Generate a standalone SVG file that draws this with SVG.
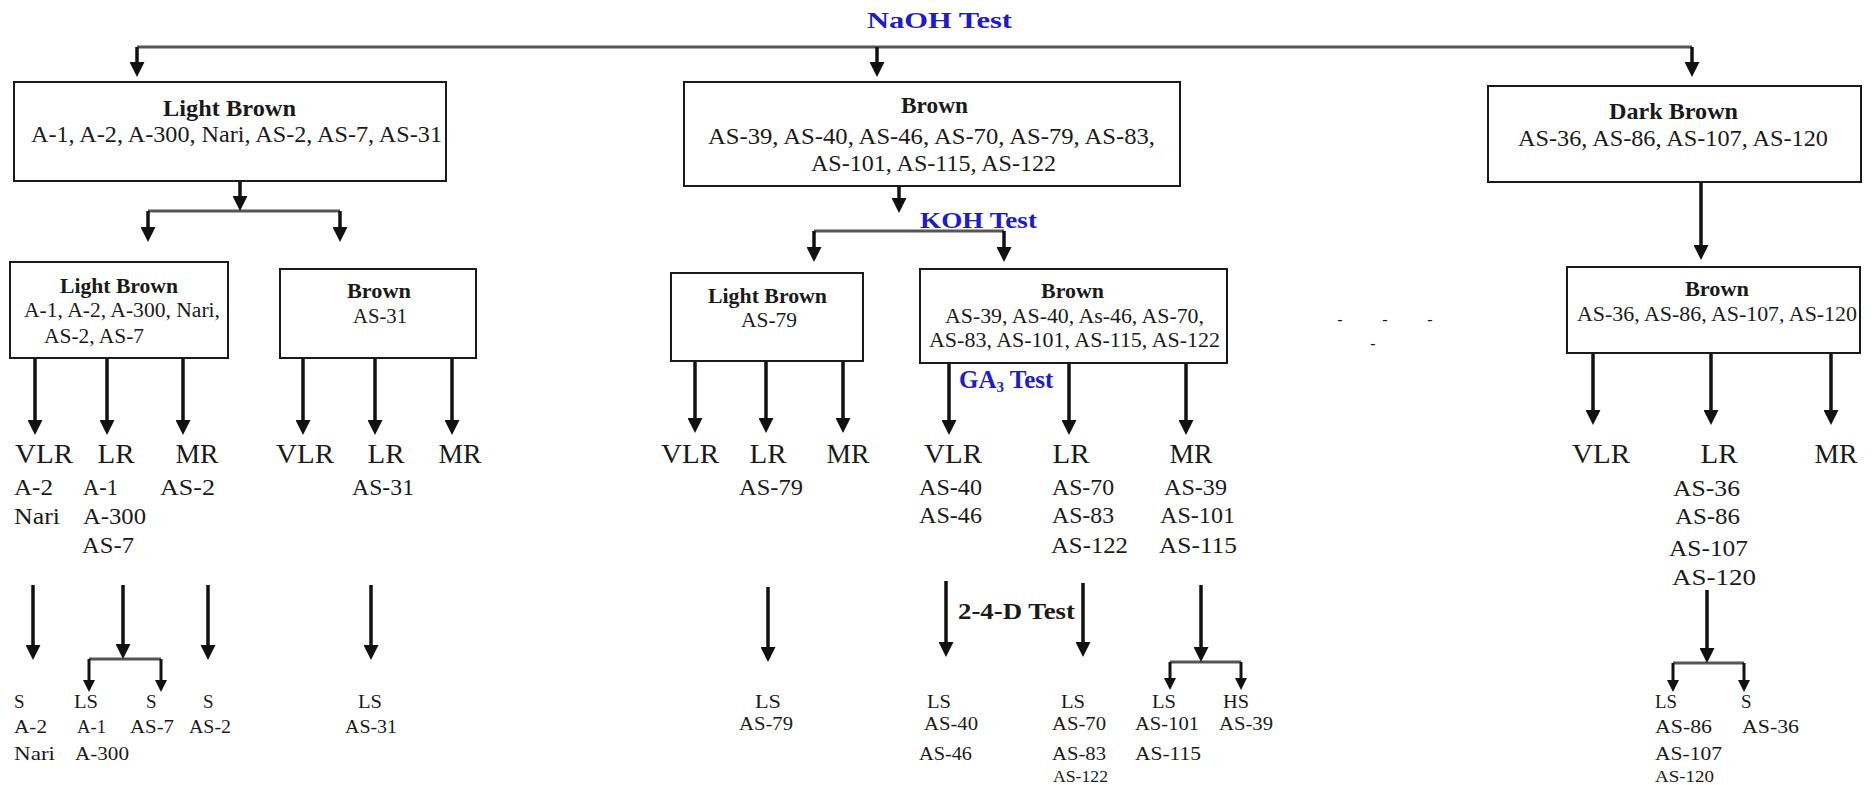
<svg xmlns="http://www.w3.org/2000/svg" width="1874" height="785" viewBox="0 0 1874 785">
<defs>
<style>
.box{fill:#fff;stroke:#1a1a1a;stroke-width:2}
text{font-family:"Liberation Serif","Times New Roman",serif;fill:#1a1a1a}
.b{font-weight:bold}
.blue{fill:#1c1cc8}
.h1{font-size:23px}
.l1{font-size:23px}
.h2{font-size:20px}
.l2{font-size:20px}
.r{font-size:27px;text-anchor:middle}
.m{font-size:23px}
.s{font-size:19px}
.xs{font-size:16px}
.dash{font-size:16px;text-anchor:middle}
.arr{stroke:#111;stroke-width:3.5;fill:none;marker-end:url(#ah)}
.arrs{stroke:#111;stroke-width:3;fill:none;marker-end:url(#ahs)}
.bar{stroke:#555;stroke-width:3;fill:none}
</style>
<marker id="ah" viewBox="0 0 10 10" refX="7" refY="5" markerWidth="15" markerHeight="15" markerUnits="userSpaceOnUse" orient="auto"><path d="M0,0 L10,5 L0,10 z" fill="#111"/></marker>
<marker id="ahs" viewBox="0 0 10 10" refX="7" refY="5" markerWidth="12" markerHeight="12" markerUnits="userSpaceOnUse" orient="auto"><path d="M0,0 L10,5 L0,10 z" fill="#111"/></marker>
</defs>
<rect width="1874" height="785" fill="#fff"/>

<g id="connectors">
<path class="bar" d="M137,47 H1692 M148,211 H340 M814,231 H1004 M89,659 H161 M1170,662 H1241 M1673,663 H1744"/>
<path class="arr" d="M137,47 V72.5"/>
<path class="arr" d="M877,47 V72.5"/>
<path class="arr" d="M1692,47 V72.5"/>
<path class="arr" d="M240,181 V206.5"/>
<path class="arr" d="M148,211 V237.5"/>
<path class="arr" d="M340,211 V237.5"/>
<path class="arr" d="M899,186 V208.5"/>
<path class="arr" d="M814,231 V257.5"/>
<path class="arr" d="M1004,231 V257.5"/>
<path class="arr" d="M1701,182 V255.5"/>
<path class="arr" d="M35,358 V430.5"/>
<path class="arr" d="M107,358 V430.5"/>
<path class="arr" d="M183,358 V430.5"/>
<path class="arr" d="M303,358 V430.5"/>
<path class="arr" d="M375,358 V430.5"/>
<path class="arr" d="M452,358 V430.5"/>
<path class="arr" d="M695,361 V428.5"/>
<path class="arr" d="M766,361 V428.5"/>
<path class="arr" d="M843,361 V428.5"/>
<path class="arr" d="M949,363 V430.5"/>
<path class="arr" d="M1069,363 V430.5"/>
<path class="arr" d="M1186,363 V430.5"/>
<path class="arr" d="M1593,353 V420.5"/>
<path class="arr" d="M1711,353 V420.5"/>
<path class="arr" d="M1831,353 V420.5"/>
<path class="arr" d="M33,585 V655.5"/>
<path class="arr" d="M123,585 V654.5"/>
<path class="arr" d="M208,585 V655.5"/>
<path class="arr" d="M371,585 V655.5"/>
<path class="arr" d="M768,587 V657.5"/>
<path class="arr" d="M946,581 V652.5"/>
<path class="arr" d="M1083,583 V652.5"/>
<path class="arr" d="M1201,585 V657.5"/>
<path class="arr" d="M1707,590 V658.5"/>
<path class="arrs" d="M89,659 V688.4"/>
<path class="arrs" d="M161,659 V688.4"/>
<path class="arrs" d="M1170,662 V686.4"/>
<path class="arrs" d="M1241,662 V686.4"/>
<path class="arrs" d="M1673,663 V688.4"/>
<path class="arrs" d="M1744,663 V688.4"/>
</g>

<g id="test-labels">
<text class="b blue" x="867" y="28" font-size="24" textLength="145" lengthAdjust="spacingAndGlyphs">NaOH Test</text>
<text class="b blue" x="920" y="228" font-size="23" textLength="117" lengthAdjust="spacingAndGlyphs">KOH Test</text>
<text class="b blue" x="959" y="388" font-size="25">GA<tspan font-size="15" dy="4">3</tspan><tspan dy="-4"> Test</tspan></text>
<text class="b" x="958" y="619" font-size="23" textLength="117" lengthAdjust="spacingAndGlyphs">2-4-D Test</text>
</g>

<g id="node-light-brown">
<rect class="box" x="14" y="82" width="432" height="99"/>
<text class="b h1" x="163" y="116" textLength="133" lengthAdjust="spacingAndGlyphs">Light Brown</text>
<text class="l1" x="31" y="142" textLength="411" lengthAdjust="spacingAndGlyphs">A-1, A-2, A-300, Nari, AS-2, AS-7, AS-31</text>
</g>

<g id="node-brown">
<rect class="box" x="684" y="82" width="496" height="104"/>
<text class="b h1" x="901" y="113" textLength="67" lengthAdjust="spacingAndGlyphs">Brown</text>
<text class="l1" x="708" y="144" textLength="447" lengthAdjust="spacingAndGlyphs">AS-39, AS-40, AS-46, AS-70, AS-79, AS-83,</text>
<text class="l1" x="811" y="171" textLength="245" lengthAdjust="spacingAndGlyphs">AS-101, AS-115, AS-122</text>
</g>

<g id="node-dark-brown">
<rect class="box" x="1488" y="86" width="373" height="96"/>
<text class="b h1" x="1609" y="119" textLength="129" lengthAdjust="spacingAndGlyphs">Dark Brown</text>
<text class="l1" x="1518" y="146" textLength="310" lengthAdjust="spacingAndGlyphs">AS-36, AS-86, AS-107, AS-120</text>
</g>

<g id="node-lb-light-brown">
<rect class="box" x="10" y="262" width="218" height="96"/>
<text class="b h2" x="60" y="293" textLength="118" lengthAdjust="spacingAndGlyphs">Light Brown</text>
<text class="l2" x="24" y="317" textLength="196" lengthAdjust="spacingAndGlyphs">A-1, A-2, A-300, Nari,</text>
<text class="l2" x="44" y="343" textLength="100" lengthAdjust="spacingAndGlyphs">AS-2, AS-7</text>
</g>

<g id="node-lb-brown">
<rect class="box" x="280" y="269" width="196" height="89"/>
<text class="b h2" x="347" y="298" textLength="64" lengthAdjust="spacingAndGlyphs">Brown</text>
<text class="l2" x="353" y="323" textLength="54" lengthAdjust="spacingAndGlyphs">AS-31</text>
</g>

<g id="node-b-light-brown">
<rect class="box" x="671" y="273" width="192" height="88"/>
<text class="b h2" x="708" y="303" textLength="119" lengthAdjust="spacingAndGlyphs">Light Brown</text>
<text class="l2" x="741" y="327" textLength="56" lengthAdjust="spacingAndGlyphs">AS-79</text>
</g>

<g id="node-b-brown">
<rect class="box" x="920" y="269" width="307" height="94"/>
<text class="b h2" x="1041" y="298" textLength="63" lengthAdjust="spacingAndGlyphs">Brown</text>
<text class="l2" x="945" y="323" textLength="259" lengthAdjust="spacingAndGlyphs">AS-39, AS-40, As-46, AS-70,</text>
<text class="l2" x="929" y="347" textLength="291" lengthAdjust="spacingAndGlyphs">AS-83, AS-101, AS-115, AS-122</text>
</g>

<g id="node-db-brown">
<rect class="box" x="1567" y="267" width="293" height="86"/>
<text class="b h2" x="1685" y="296" textLength="64" lengthAdjust="spacingAndGlyphs">Brown</text>
<text class="l2" x="1577" y="321" textLength="280" lengthAdjust="spacingAndGlyphs">AS-36, AS-86, AS-107, AS-120</text>
</g>

<g id="dashes">
<text class="dash" x="1340" y="325">-</text>
<text class="dash" x="1385" y="325">-</text>
<text class="dash" x="1430" y="325">-</text>
<text class="dash" x="1373" y="349">-</text>
</g>

<g id="root-classes">
<text class="r" x="44" y="463" textLength="58" lengthAdjust="spacingAndGlyphs">VLR</text>
<text class="r" x="116" y="463" textLength="37" lengthAdjust="spacingAndGlyphs">LR</text>
<text class="r" x="197" y="463" textLength="43" lengthAdjust="spacingAndGlyphs">MR</text>
<text class="r" x="305" y="463" textLength="58" lengthAdjust="spacingAndGlyphs">VLR</text>
<text class="r" x="386" y="463" textLength="37" lengthAdjust="spacingAndGlyphs">LR</text>
<text class="r" x="460" y="463" textLength="43" lengthAdjust="spacingAndGlyphs">MR</text>
<text class="r" x="690" y="463" textLength="58" lengthAdjust="spacingAndGlyphs">VLR</text>
<text class="r" x="768" y="463" textLength="37" lengthAdjust="spacingAndGlyphs">LR</text>
<text class="r" x="848" y="463" textLength="43" lengthAdjust="spacingAndGlyphs">MR</text>
<text class="r" x="953" y="463" textLength="58" lengthAdjust="spacingAndGlyphs">VLR</text>
<text class="r" x="1071" y="463" textLength="37" lengthAdjust="spacingAndGlyphs">LR</text>
<text class="r" x="1191" y="463" textLength="43" lengthAdjust="spacingAndGlyphs">MR</text>
<text class="r" x="1601" y="463" textLength="58" lengthAdjust="spacingAndGlyphs">VLR</text>
<text class="r" x="1719" y="463" textLength="37" lengthAdjust="spacingAndGlyphs">LR</text>
<text class="r" x="1836" y="463" textLength="43" lengthAdjust="spacingAndGlyphs">MR</text>
</g>

<g id="root-members">
<text class="m" x="14" y="495" textLength="39" lengthAdjust="spacingAndGlyphs">A-2</text>
<text class="m" x="14" y="524" textLength="46" lengthAdjust="spacingAndGlyphs">Nari</text>
<text class="m" x="83" y="495" textLength="35" lengthAdjust="spacingAndGlyphs">A-1</text>
<text class="m" x="83" y="524" textLength="63" lengthAdjust="spacingAndGlyphs">A-300</text>
<text class="m" x="82" y="553" textLength="52" lengthAdjust="spacingAndGlyphs">AS-7</text>
<text class="m" x="160" y="495" textLength="55" lengthAdjust="spacingAndGlyphs">AS-2</text>
<text class="m" x="352" y="495" textLength="62" lengthAdjust="spacingAndGlyphs">AS-31</text>
<text class="m" x="739" y="495" textLength="64" lengthAdjust="spacingAndGlyphs">AS-79</text>
<text class="m" x="919" y="495" textLength="63" lengthAdjust="spacingAndGlyphs">AS-40</text>
<text class="m" x="919" y="523" textLength="63" lengthAdjust="spacingAndGlyphs">AS-46</text>
<text class="m" x="1052" y="495" textLength="62" lengthAdjust="spacingAndGlyphs">AS-70</text>
<text class="m" x="1052" y="523" textLength="62" lengthAdjust="spacingAndGlyphs">AS-83</text>
<text class="m" x="1051" y="553" textLength="77" lengthAdjust="spacingAndGlyphs">AS-122</text>
<text class="m" x="1164" y="495" textLength="63" lengthAdjust="spacingAndGlyphs">AS-39</text>
<text class="m" x="1160" y="523" textLength="75" lengthAdjust="spacingAndGlyphs">AS-101</text>
<text class="m" x="1159" y="553" textLength="78" lengthAdjust="spacingAndGlyphs">AS-115</text>
<text class="m" x="1673" y="496" textLength="67" lengthAdjust="spacingAndGlyphs">AS-36</text>
<text class="m" x="1675" y="524" textLength="65" lengthAdjust="spacingAndGlyphs">AS-86</text>
<text class="m" x="1669" y="556" textLength="79" lengthAdjust="spacingAndGlyphs">AS-107</text>
<text class="m" x="1672" y="585" font-size="26" textLength="84" lengthAdjust="spacingAndGlyphs">AS-120</text>
</g>

<g id="salinity-results">
<text class="s" x="14" y="708">S</text>
<text class="s" x="14" y="733" textLength="33" lengthAdjust="spacingAndGlyphs">A-2</text>
<text class="s" x="14" y="760" textLength="41" lengthAdjust="spacingAndGlyphs">Nari</text>
<text class="s" x="74" y="708" textLength="24" lengthAdjust="spacingAndGlyphs">LS</text>
<text class="s" x="77" y="733" textLength="29" lengthAdjust="spacingAndGlyphs">A-1</text>
<text class="s" x="75" y="760" textLength="54" lengthAdjust="spacingAndGlyphs">A-300</text>
<text class="s" x="146" y="708">S</text>
<text class="s" x="130" y="733" textLength="44" lengthAdjust="spacingAndGlyphs">AS-7</text>
<text class="s" x="203" y="708">S</text>
<text class="s" x="189" y="733" textLength="42" lengthAdjust="spacingAndGlyphs">AS-2</text>
<text class="s" x="358" y="708" textLength="24" lengthAdjust="spacingAndGlyphs">LS</text>
<text class="s" x="345" y="733" textLength="52" lengthAdjust="spacingAndGlyphs">AS-31</text>
<text class="s" x="755" y="708" textLength="26" lengthAdjust="spacingAndGlyphs">LS</text>
<text class="s" x="739" y="730" textLength="54" lengthAdjust="spacingAndGlyphs">AS-79</text>
<text class="s" x="927" y="708" textLength="24" lengthAdjust="spacingAndGlyphs">LS</text>
<text class="s" x="924" y="730" textLength="54" lengthAdjust="spacingAndGlyphs">AS-40</text>
<text class="s" x="919" y="760" textLength="53" lengthAdjust="spacingAndGlyphs">AS-46</text>
<text class="s" x="1061" y="708" textLength="24" lengthAdjust="spacingAndGlyphs">LS</text>
<text class="s" x="1052" y="730" textLength="54" lengthAdjust="spacingAndGlyphs">AS-70</text>
<text class="s" x="1052" y="760" textLength="54" lengthAdjust="spacingAndGlyphs">AS-83</text>
<text class="xs" x="1053" y="782" textLength="55" lengthAdjust="spacingAndGlyphs">AS-122</text>
<text class="s" x="1152" y="708" textLength="24" lengthAdjust="spacingAndGlyphs">LS</text>
<text class="s" x="1135" y="730" textLength="64" lengthAdjust="spacingAndGlyphs">AS-101</text>
<text class="s" x="1135" y="760" textLength="66" lengthAdjust="spacingAndGlyphs">AS-115</text>
<text class="s" x="1223" y="708" textLength="26" lengthAdjust="spacingAndGlyphs">HS</text>
<text class="s" x="1219" y="730" textLength="54" lengthAdjust="spacingAndGlyphs">AS-39</text>
<text class="s" x="1655" y="708" textLength="22" lengthAdjust="spacingAndGlyphs">LS</text>
<text class="s" x="1655" y="733" textLength="57" lengthAdjust="spacingAndGlyphs">AS-86</text>
<text class="s" x="1655" y="760" textLength="67" lengthAdjust="spacingAndGlyphs">AS-107</text>
<text class="xs" x="1655" y="782" textLength="59" lengthAdjust="spacingAndGlyphs">AS-120</text>
<text class="s" x="1741" y="708">S</text>
<text class="s" x="1742" y="733" textLength="57" lengthAdjust="spacingAndGlyphs">AS-36</text>
</g>
</svg>
